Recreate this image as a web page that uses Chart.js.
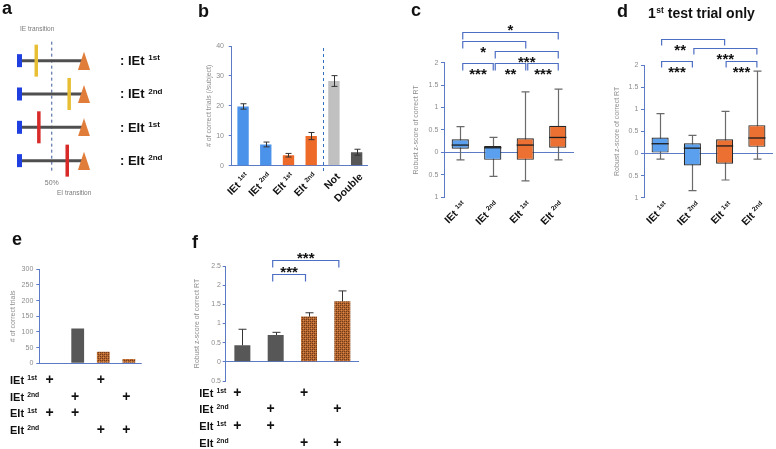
<!DOCTYPE html>
<html>
<head>
<meta charset="utf-8">
<script src="https://cdn.jsdelivr.net/npm/chart.js@4.4.0/dist/chart.umd.min.js"></script>
<style>
html, body { margin: 0; padding: 0; background: #fff; }
#fig { position: relative; width: 776px; height: 449px; overflow: hidden; }
#fig canvas { position: absolute; }
</style>
</head>
<body>
<div id="fig"></div>
<script>
// ---------- data ----------
// a: schematic trials, transition point as % of the trial
const aNames = ['IEt', 'IEt', 'EIt', 'EIt'];
const aSups = ['1st', '2nd', '1st', '2nd'];
const aTransitions = [26, 77, 30, 74];

// b: # of correct trials per subject
const bNames = ['IEt', 'IEt', 'EIt', 'EIt', 'Not', 'Double'];
const bSups = ['1st', '2nd', '1st', '2nd', '', ''];
const bMeans = [19.8, 7.1, 3.5, 9.9, 28.3, 4.5];
const bErrors = [0.9, 0.8, 0.6, 1.2, 1.8, 1.0];

// c, d: robust z-score boxplots
const boxNames = ['IEt', 'IEt', 'EIt', 'EIt'];
const boxSups = ['1st', '2nd', '1st', '2nd'];
const cMin = [-0.17, -0.54, -0.64, -0.17];
const cQ1 = [0.08, -0.17, -0.17, 0.10];
const cMedian = [0.16, 0.10, 0.16, 0.33];
const cQ3 = [0.29, 0.14, 0.31, 0.59];
const cMax = [0.57, 0.33, 1.35, 1.41];
const cSig = [
    { from: 0, to: 1, level: 1.99, stars: '***' },
    { from: 1, to: 2, level: 1.99, stars: '**' },
    { from: 2, to: 3, level: 1.99, stars: '***' },
    { from: 1, to: 3, level: 2.27, stars: '***' },
    { from: 0, to: 2, level: 2.48, stars: '*', shift: -11 },
    { from: 0, to: 3, level: 2.69, stars: '*', above: true }
];

const dMin = [-0.13, -0.84, -0.60, -0.13];
const dQ1 = [0.02, -0.27, -0.23, 0.15];
const dMedian = [0.22, 0.12, 0.17, 0.35];
const dQ3 = [0.36, 0.23, 0.32, 0.64];
const dMax = [0.90, 0.41, 0.95, 1.86];
const dSig = [
    { from: 0, to: 1, level: 2.09, stars: '***' },
    { from: 2, to: 3, level: 2.09, stars: '***' },
    { from: 1, to: 3, level: 2.39, stars: '***' },
    { from: 0, to: 2, level: 2.58, stars: '**', shift: -13 }
];

// e, f: combinations of trial types
const comboNames = ['IEt', 'IEt', 'EIt', 'EIt'];
const comboSups = ['1st', '2nd', '1st', '2nd'];
const comboMarks = [
    [1, 0, 1, 0],
    [0, 1, 0, 1],
    [1, 1, 0, 0],
    [0, 0, 1, 1]
];
const eCounts = [0, 111, 37, 14];
const fMeans = [0.43, 0.70, 1.18, 1.58];
const fErrors = [0.42, 0.07, 0.10, 0.27];
const fSig = [
    { from: 1, to: 2, level: 2.29, stars: '***', above: true },
    { from: 1, to: 3, level: 2.66, stars: '***', above: true }
];

// ---------- styles ----------
const FONT = "'Liberation Sans', Arial, Helvetica, sans-serif";
const AXIS = '#5b7bc6';
const BRACKET = '#4d6fc3';
const TICK_GRAY = '#8c8c8c';
const BLUE = '#4b93ea';
const ORANGE = '#ee6a28';
const DARK = '#575757';

Chart.defaults.font.family = FONT;

function addCanvas(box) {
    const c = document.createElement('canvas');
    c.width = box.w;
    c.height = box.h;
    c.style.left = box.x + 'px';
    c.style.top = box.y + 'px';
    c.style.width = box.w + 'px';
    c.style.height = box.h + 'px';
    document.getElementById('fig').appendChild(c);
    return c;
}

// text with a small superscript after it
function drawSup(ctx, x, y, base, sup, size, align) {
    const supSize = size * 0.62;
    ctx.font = `bold ${size}px ${FONT}`;
    const wBase = ctx.measureText(base).width;
    ctx.font = `bold ${supSize}px ${FONT}`;
    const wSup = sup ? ctx.measureText(sup).width : 0;
    const gap = sup ? size * 0.28 : 0;
    const x0 = align === 'right' ? x - (wBase + gap + wSup) : x;
    ctx.textAlign = 'left';
    ctx.textBaseline = 'alphabetic';
    ctx.font = `bold ${size}px ${FONT}`;
    ctx.fillText(base, x0, y);
    if (sup) {
        ctx.font = `bold ${supSize}px ${FONT}`;
        ctx.fillText(sup, x0 + wBase + gap, y - size * 0.38);
    }
}

function yScale(min, max, step, title, pad, absLabels) {
    const ticks = { stepSize: step, padding: pad, color: TICK_GRAY, font: { size: 7 } };
    if (absLabels) ticks.callback = v => String(Math.abs(v));
    return {
        min: min,
        max: max,
        ticks: ticks,
        grid: {
            color: c => (c.tick && c.tick.value === 0 ? AXIS : 'rgba(0,0,0,0)'),
            tickColor: AXIS,
            tickLength: 3,
            lineWidth: 1
        },
        border: { display: true, color: AXIS, width: 1 },
        title: { display: true, text: title, color: TICK_GRAY, font: { size: 7 }, padding: 0 }
    };
}

function baseOptions(y) {
    return {
        responsive: false,
        animation: false,
        events: [],
        plugins: { legend: { display: false }, tooltip: { enabled: false } },
        scales: { x: { display: false }, y: y }
    };
}

// box = canvas rect on the page, area = wanted plot area on the page
function placedChart(box, area, titleX, config) {
    const canvas = addCanvas(box);
    const padLeft = titleX - box.x - 4.2;
    config.options.layout = {
        padding: {
            left: padLeft,
            top: area.top - box.y,
            right: box.x + box.w - area.right,
            bottom: box.y + box.h - area.bottom
        }
    };
    config.options.scales.y.afterFit = s => { s.width = area.left - box.x - padLeft; };
    return new Chart(canvas, config);
}

function slantedLabels(names, sups, dx, dy) {
    return {
        id: 'slantedLabels',
        afterDraw(chart) {
            const { ctx, chartArea, scales: { x } } = chart;
            ctx.save();
            ctx.fillStyle = '#111';
            names.forEach((name, i) => {
                ctx.save();
                ctx.translate(x.getPixelForValue(i) + dx, chartArea.bottom + dy);
                ctx.rotate(-Math.PI / 4);
                drawSup(ctx, 0, 3.8, name, sups[i], 10.5, 'right');
                ctx.restore();
            });
            ctx.restore();
        }
    };
}

function sigBrackets(list, dx1, dx2, leg) {
    return {
        id: 'sigBrackets',
        afterDraw(chart) {
            const { ctx, scales: { x, y } } = chart;
            ctx.save();
            ctx.strokeStyle = BRACKET;
            ctx.lineWidth = 1.2;
            ctx.fillStyle = '#111';
            ctx.font = `bold 15px ${FONT}`;
            ctx.textAlign = 'center';
            ctx.textBaseline = 'alphabetic';
            list.forEach(b => {
                const x1 = x.getPixelForValue(b.from) + dx1;
                const x2 = x.getPixelForValue(b.to) + dx2;
                const yy = Math.round(y.getPixelForValue(b.level)) + 0.5;
                ctx.beginPath();
                ctx.moveTo(x1, yy + leg);
                ctx.lineTo(x1, yy);
                ctx.lineTo(x2, yy);
                ctx.lineTo(x2, yy + leg);
                ctx.stroke();
                const cy = b.above ? yy - 6 : yy + 7;
                ctx.fillText(b.stars, (x1 + x2) / 2 + (b.shift || 0), cy + 8.5);
            });
            ctx.restore();
        }
    };
}

function whiskers(mins, medians, maxs) {
    return {
        id: 'whiskers',
        beforeDatasetsDraw(chart) {
            const { ctx, scales: { x, y } } = chart;
            ctx.save();
            ctx.strokeStyle = '#6a6a6a';
            ctx.lineWidth = 1.2;
            mins.forEach((lo, i) => {
                const px = Math.round(x.getPixelForValue(i)) + 0.5;
                const top = y.getPixelForValue(maxs[i]);
                const bot = y.getPixelForValue(lo);
                ctx.beginPath();
                ctx.moveTo(px, top); ctx.lineTo(px, bot);
                ctx.moveTo(px - 4, top); ctx.lineTo(px + 4, top);
                ctx.moveTo(px - 4, bot); ctx.lineTo(px + 4, bot);
                ctx.stroke();
            });
            ctx.restore();
        },
        afterDatasetsDraw(chart) {
            const { ctx, scales: { y } } = chart;
            const bars = chart.getDatasetMeta(0).data;
            ctx.save();
            ctx.strokeStyle = '#1c1c1c';
            ctx.lineWidth = 1.3;
            medians.forEach((m, i) => {
                const py = y.getPixelForValue(m);
                ctx.beginPath();
                ctx.moveTo(bars[i].x - bars[i].width / 2, py);
                ctx.lineTo(bars[i].x + bars[i].width / 2, py);
                ctx.stroke();
            });
            ctx.restore();
        }
    };
}

function errorBars(means, errors, both, half) {
    return {
        id: 'errorBars',
        afterDatasetsDraw(chart) {
            const { ctx, scales: { x, y } } = chart;
            ctx.save();
            ctx.strokeStyle = '#333';
            ctx.lineWidth = 1;
            means.forEach((m, i) => {
                const px = Math.round(x.getPixelForValue(i)) + 0.5;
                const top = y.getPixelForValue(m + errors[i]);
                const bot = y.getPixelForValue(both ? m - errors[i] : m);
                ctx.beginPath();
                ctx.moveTo(px, top); ctx.lineTo(px, bot);
                ctx.moveTo(px - half, top); ctx.lineTo(px + half, top);
                if (both) { ctx.moveTo(px - half, bot); ctx.lineTo(px + half, bot); }
                ctx.stroke();
            });
            ctx.restore();
        }
    };
}

function comboTable(labelX, firstRow, rowGap, dx) {
    return {
        id: 'comboTable',
        afterDraw(chart) {
            const { ctx, chartArea, scales: { x } } = chart;
            ctx.save();
            ctx.fillStyle = '#111';
            comboNames.forEach((name, r) => {
                const yy = chartArea.bottom + firstRow + r * rowGap;
                drawSup(ctx, labelX, yy + 4, name, comboSups[r], 11, 'left');
                ctx.font = `bold 14px ${FONT}`;
                ctx.textAlign = 'center';
                ctx.textBaseline = 'middle';
                comboMarks[r].forEach((on, c) => {
                    if (on) ctx.fillText('+', x.getPixelForValue(c) + dx, yy);
                });
            });
            ctx.restore();
        }
    };
}

function hatch() {
    const p = document.createElement('canvas');
    p.width = 4;
    p.height = 4;
    const g = p.getContext('2d');
    g.fillStyle = '#b5662f';
    g.fillRect(0, 0, 4, 4);
    g.fillStyle = '#6e3a1c';
    g.fillRect(0, 0, 1, 1);
    g.fillRect(2, 2, 1, 1);
    g.fillRect(2, 0, 1, 1);
    g.fillRect(0, 2, 1, 1);
    g.fillStyle = '#d88a4c';
    g.fillRect(1, 1, 1, 1);
    g.fillRect(3, 3, 1, 1);
    return g.createPattern(p, 'repeat');
}

// ---------- panel letters and title ----------
const over = addCanvas({ x: 0, y: 0, w: 776, h: 449 }).getContext('2d');
over.fillStyle = '#111';
over.font = `bold 18px ${FONT}`;
over.fillText('a', 2, 13.5);
over.fillText('b', 198, 16.5);
over.fillText('c', 411, 15.5);
over.fillText('d', 617, 17);
over.fillText('e', 12, 245);
over.fillText('f', 192, 248);
over.font = `bold 14px ${FONT}`;
over.fillText('1', 648, 18);
let tx = 648 + over.measureText('1').width + 0.5;
over.font = `bold 8.5px ${FONT}`;
over.fillText('st', tx, 12.5);
tx += over.measureText('st').width;
over.font = `bold 14px ${FONT}`;
over.fillText(' test trial only', tx, 18);

// ---------- a: trial schematic ----------
const tri = document.createElement('canvas');
tri.width = 12;
tri.height = 18;
const tg = tri.getContext('2d');
tg.fillStyle = '#e07d3a';
tg.beginPath();
tg.moveTo(6, 0); tg.lineTo(12, 18); tg.lineTo(0, 18);
tg.closePath();
tg.fill();

const aRowsIdx = aNames.map((_, i) => i + 1);
new Chart(addCanvas({ x: 0, y: 20, w: 180, h: 180 }), {
    type: 'scatter',
    data: {
        datasets: [
            {
                data: aTransitions.map((t, i) => ({ x: t, y: i + 1 })),
                pointStyle: 'line', pointRotation: 90, pointRadius: 16, pointBorderWidth: 3.5,
                pointBorderColor: ['#e8bf34', '#e8bf34', '#d92a2a', '#d92a2a'],
                clip: false, order: 0
            },
            {
                data: aRowsIdx.map(r => ({ x: 0, y: r })),
                pointStyle: 'line', pointRotation: 90, pointRadius: 6.5, pointBorderWidth: 5,
                pointBorderColor: '#1f3fe0', clip: false, order: 1
            },
            {
                data: aRowsIdx.map(r => ({ x: 100, y: r })),
                pointStyle: tri, pointRadius: 9, clip: false, order: 1
            },
            ...aRowsIdx.map(r => ({
                data: [{ x: 0, y: r }, { x: 100, y: r }],
                showLine: true, borderColor: '#4f4f4f', borderWidth: 3, pointRadius: 0, clip: false, order: 2
            })),
            {
                data: [{ x: 50, y: 0.43 }, { x: 50, y: 4.37 }],
                showLine: true, borderColor: '#3b5a9a', borderWidth: 1, borderDash: [3, 3],
                pointRadius: 0, clip: false, order: 3
            }
        ]
    },
    options: {
        responsive: false,
        animation: false,
        events: [],
        layout: { padding: { left: 19, right: 96, top: 24, bottom: 22.7 } },
        plugins: { legend: { display: false }, tooltip: { enabled: false } },
        scales: {
            x: { type: 'linear', min: 0, max: 100, display: false },
            y: { type: 'linear', min: 0.5, max: 4.5, reverse: true, display: false }
        }
    },
    plugins: [{
        id: 'schemaText',
        afterDraw(chart) {
            const { ctx, scales: { x, y } } = chart;
            ctx.save();
            ctx.fillStyle = '#7a7a7a';
            ctx.font = `6.5px ${FONT}`;
            ctx.textAlign = 'left';
            ctx.fillText('IE transition', 20, 11);
            ctx.fillText('EI transition', 57, 175);
            ctx.font = `7px ${FONT}`;
            ctx.textAlign = 'center';
            ctx.fillText('50%', x.getPixelForValue(50), 165);
            ctx.fillStyle = '#111';
            aNames.forEach((n, i) => {
                drawSup(ctx, 120, y.getPixelForValue(i + 1) + 4.5, ': ' + n, aSups[i], 13, 'left');
            });
            ctx.restore();
        }
    }]
});

// ---------- b: correct trials per subject ----------
placedChart(
    { x: 195, y: 30, w: 180, h: 215 },
    { left: 231.7, top: 46, right: 368, bottom: 165.7 },
    208.8,
    {
        type: 'bar',
        data: {
            labels: bNames.map((n, i) => (bSups[i] ? n + ' ' + bSups[i] : n)),
            datasets: [{
                data: bMeans,
                backgroundColor: [BLUE, BLUE, ORANGE, ORANGE, '#c0c0c0', DARK],
                borderWidth: 0,
                barPercentage: 0.5,
                categoryPercentage: 1
            }]
        },
        options: baseOptions(yScale(0, 40, 10, '# of correct trials (/subject)', 4.7, false)),
        plugins: [
            errorBars(bMeans, bErrors, true, 3),
            slantedLabels(bNames, bSups, 4, 9),
            {
                id: 'divider',
                afterDraw(chart) {
                    const { ctx, chartArea, scales: { x } } = chart;
                    const px = Math.round((x.getPixelForValue(3) + x.getPixelForValue(4)) / 2) + 0.5;
                    ctx.save();
                    ctx.strokeStyle = '#2e6fc0';
                    ctx.lineWidth = 1;
                    ctx.setLineDash([3, 3]);
                    ctx.beginPath();
                    ctx.moveTo(px, chartArea.top + 2);
                    ctx.lineTo(px, chartArea.bottom + 6);
                    ctx.stroke();
                    ctx.restore();
                }
            }
        ]
    }
);

// ---------- c, d: boxplots ----------
function boxChart(box, area, titleX, mins, q1s, meds, q3s, maxs, sig, bdx1, bdx2, leg, ldx) {
    return placedChart(box, area, titleX, {
        type: 'bar',
        data: {
            labels: boxNames.map((n, i) => n + ' ' + boxSups[i]),
            datasets: [{
                data: q1s.map((q, i) => [q, q3s[i]]),
                backgroundColor: ['#5aa0ee', '#5aa0ee', '#ec7032', '#ec7032'],
                borderColor: '#262626',
                borderWidth: 1.2,
                borderSkipped: false,
                barPercentage: 0.53,
                categoryPercentage: 1
            }]
        },
        options: baseOptions(yScale(-1, 2, 0.5, 'Robust z-score of correct RT', 2.7, true)),
        plugins: [
            whiskers(mins, meds, maxs),
            sigBrackets(sig, bdx1, bdx2, leg),
            slantedLabels(boxNames, boxSups, ldx, 6)
        ]
    });
}

boxChart({ x: 395, y: 0, w: 185, h: 240 }, { left: 444, top: 62.7, right: 574, bottom: 197 }, 416,
    cMin, cQ1, cMedian, cQ3, cMax, cSig, 2.5, 0.5, 7, 4);
boxChart({ x: 590, y: 0, w: 186, h: 240 }, { left: 644, top: 65, right: 773, bottom: 197.7 }, 616.7,
    dMin, dQ1, dMedian, dQ3, dMax, dSig, 1.5, 0, 6, 6);

// ---------- e: counts per combination ----------
const hatchFill = hatch();
placedChart(
    { x: 0, y: 250, w: 170, h: 199 },
    { left: 39.3, top: 269.3, right: 141.7, bottom: 363.3 },
    13.3,
    {
        type: 'bar',
        data: {
            labels: ['1', '2', '3', '4'],
            datasets: [{
                data: eCounts,
                backgroundColor: [DARK, DARK, hatchFill, hatchFill],
                borderWidth: 0,
                barPercentage: 0.5,
                categoryPercentage: 1
            }]
        },
        options: baseOptions(yScale(0, 300, 50, '# of correct trials', 3, false)),
        plugins: [comboTable(10, 16.7, 16.7, -2.5)]
    }
);

// ---------- f: z-score per combination ----------
placedChart(
    { x: 180, y: 245, w: 200, h: 204 },
    { left: 225.7, top: 266, right: 359, bottom: 381 },
    197.3,
    {
        type: 'bar',
        data: {
            labels: ['1', '2', '3', '4'],
            datasets: [{
                data: fMeans,
                backgroundColor: [DARK, DARK, hatchFill, hatchFill],
                borderWidth: 0,
                barPercentage: 0.48,
                categoryPercentage: 1
            }]
        },
        options: baseOptions(yScale(-0.5, 2.5, 0.5, 'Robust z-score of correct RT', 1.7, true)),
        plugins: [
            errorBars(fMeans, fErrors, false, 4),
            sigBrackets(fSig, -3, -3.5, 7),
            comboTable(19.3, 11.7, 16.7, -5)
        ]
    }
);
</script>
</body>
</html>
